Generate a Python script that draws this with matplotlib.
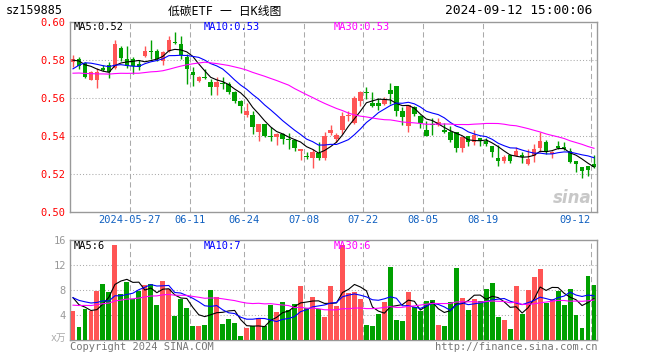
import numpy as np
import pandas as pd
import matplotlib
matplotlib.use('Agg')
import matplotlib.pyplot as plt

# Daily bars for 159885, 2024-05-13 .. 2024-09-12
opens = [0.5788, 0.5805, 0.5784, 0.5696, 0.5696, 0.5756, 0.5774, 0.5756, 0.5861, 0.5805,
         0.5805, 0.5779, 0.5819, 0.5849, 0.5849, 0.5796, 0.5849, 0.5896, 0.5884, 0.5814,
         0.5739, 0.5691, 0.5707, 0.5686, 0.5656, 0.5679, 0.5674, 0.5633, 0.5586, 0.5511,
         0.5511, 0.5423, 0.5463, 0.5402, 0.5393, 0.5411, 0.5382, 0.5379, 0.5323, 0.5289,
         0.5282, 0.5311, 0.5282, 0.5416, 0.5384, 0.5433, 0.5504, 0.5468, 0.5586, 0.5628,
         0.5574, 0.5574, 0.5568, 0.5644, 0.5665, 0.5533, 0.5454, 0.5551, 0.5507, 0.5433,
         0.5460, 0.5458, 0.5433, 0.5423, 0.5423, 0.5335, 0.5402, 0.5367, 0.5391, 0.5375,
         0.5346, 0.5282, 0.5270, 0.5300, 0.5296, 0.5300, 0.5253, 0.5296, 0.5335, 0.5367,
         0.5305, 0.5346, 0.5340, 0.5323, 0.5270, 0.5235, 0.5244, 0.5253]
highs = [0.5826, 0.5814, 0.5791, 0.5744, 0.5756, 0.5774, 0.5788, 0.5907, 0.5872, 0.5872,
         0.5814, 0.5800, 0.5875, 0.5907, 0.5858, 0.5849, 0.5928, 0.5949, 0.5928, 0.5832,
         0.5761, 0.5714, 0.5753, 0.5700, 0.5709, 0.5709, 0.5682, 0.5639, 0.5591, 0.5574,
         0.5533, 0.5463, 0.5463, 0.5446, 0.5416, 0.5416, 0.5416, 0.5384, 0.5332, 0.5314,
         0.5332, 0.5367, 0.5423, 0.5458, 0.5416, 0.5528, 0.5533, 0.5609, 0.5639, 0.5656,
         0.5630, 0.5598, 0.5604, 0.5679, 0.5665, 0.5551, 0.5563, 0.5560, 0.5511, 0.5481,
         0.5493, 0.5493, 0.5468, 0.5454, 0.5423, 0.5393, 0.5402, 0.5433, 0.5391, 0.5388,
         0.5346, 0.5353, 0.5300, 0.5305, 0.5340, 0.5314, 0.5332, 0.5358, 0.5423, 0.5381,
         0.5323, 0.5375, 0.5367, 0.5335, 0.5270, 0.5235, 0.5244, 0.5300]
lows = [0.5761, 0.5753, 0.5704, 0.5696, 0.5651, 0.5744, 0.5704, 0.5753, 0.5796, 0.5756,
        0.5726, 0.5747, 0.5814, 0.5805, 0.5796, 0.5774, 0.5844, 0.5884, 0.5805, 0.5674,
        0.5661, 0.5682, 0.5700, 0.5616, 0.5616, 0.5647, 0.5621, 0.5574, 0.5519, 0.5498,
        0.5411, 0.5375, 0.5393, 0.5375, 0.5353, 0.5358, 0.5332, 0.5323, 0.5275, 0.5279,
        0.5230, 0.5275, 0.5275, 0.5405, 0.5370, 0.5411, 0.5481, 0.5463, 0.5560, 0.5595,
        0.5551, 0.5539, 0.5563, 0.5568, 0.5504, 0.5458, 0.5419, 0.5504, 0.5440, 0.5402,
        0.5405, 0.5451, 0.5416, 0.5370, 0.5318, 0.5318, 0.5349, 0.5353, 0.5349, 0.5349,
        0.5288, 0.5240, 0.5256, 0.5256, 0.5293, 0.5258, 0.5247, 0.5265, 0.5318, 0.5305,
        0.5282, 0.5332, 0.5328, 0.5258, 0.5209, 0.5177, 0.5191, 0.5230]
closes = [0.5805, 0.5770, 0.5709, 0.5739, 0.5739, 0.5750, 0.5739, 0.5884, 0.5809, 0.5767,
          0.5767, 0.5761, 0.5849, 0.5840, 0.5805, 0.5840, 0.5907, 0.5888, 0.5826, 0.5753,
          0.5721, 0.5709, 0.5705, 0.5656, 0.5686, 0.5674, 0.5633, 0.5586, 0.5556, 0.5533,
          0.5446, 0.5463, 0.5402, 0.5396, 0.5411, 0.5384, 0.5380, 0.5335, 0.5332, 0.5288,
          0.5314, 0.5282, 0.5402, 0.5433, 0.5405, 0.5507, 0.5511, 0.5598, 0.5633, 0.5626,
          0.5556, 0.5556, 0.5591, 0.5621, 0.5533, 0.5498, 0.5563, 0.5516, 0.5468, 0.5402,
          0.5458, 0.5475, 0.5423, 0.5381, 0.5335, 0.5393, 0.5367, 0.5405, 0.5375, 0.5356,
          0.5314, 0.5270, 0.5291, 0.5270, 0.5323, 0.5288, 0.5279, 0.5332, 0.5375, 0.5314,
          0.5314, 0.5335, 0.5332, 0.5261, 0.5253, 0.5214, 0.5223, 0.5235]
# volume in 万手
volumes = [4.57, 2.15, 5.0, 4.68, 7.9, 9.03, 7.63, 15.2, 7.42, 9.25,
           6.6, 7.8, 8.87, 9.03, 5.54, 9.4, 8.17, 3.92, 6.56, 5.2,
           2.26, 2.26, 2.42, 8.06, 6.83, 2.58, 3.39, 2.8, 0.7, 1.99,
           2.26, 3.5, 2.26, 5.65, 4.41, 6.02, 4.84, 5.8, 8.6, 5.1,
           6.83, 5.0, 3.76, 8.6, 5.44, 15.2, 7.47, 7.73, 6.56, 2.4,
           2.24, 4.16, 6.13, 11.73, 3.2, 3.09, 7.73, 5.23, 4.69, 6.29,
           6.4, 2.4, 2.24, 6.13, 11.57, 6.77, 4.8, 6.56, 6.24, 8.21,
           9.17, 3.73, 3.2, 1.81, 8.69, 4.16, 8.0, 10.13, 11.41, 5.97,
           6.56, 7.89, 5.6, 8.21, 3.95, 1.92, 10.29, 8.85]

# rough guess of the 29 sessions before the window, only to warm up the moving averages
prior_close = [0.574, 0.578, 0.576, 0.579, 0.575, 0.577, 0.580, 0.576, 0.578, 0.575,
               0.576, 0.574, 0.573, 0.575, 0.572, 0.568, 0.563, 0.558, 0.555, 0.556,
               0.558, 0.558, 0.576, 0.580, 0.582, 0.579, 0.581, 0.578, 0.581]
prior_vol = [3.8, 4.5, 5.2, 3.9, 4.1, 4.8, 5.0, 3.6, 4.4, 4.9, 4.2, 3.7, 4.6, 4.8, 4.5,
             6.2, 7.5, 6.8, 5.9, 7.1, 6.4, 7.3, 6.6, 7.0, 6.5, 7.8, 6.9, 7.4, 7.2]

tick_pos = [10, 20, 29, 39, 49, 59, 69, 87]
tick_labels = ['2024-05-27', '06-11', '06-24', '07-08', '07-22', '08-05', '08-19', '09-12']

RED = '#ff5555'
GREEN = '#00a000'
MONO = 'DejaVu Sans Mono'

n = len(closes)
x = np.arange(n)
npre = len(prior_close)
cs = pd.Series(prior_close + closes)
vs = pd.Series(prior_vol + volumes)
ma = {k: cs.rolling(k).mean().values[npre:] for k in (5, 10, 30)}
vma = {k: vs.rolling(k).mean().values[npre:] for k in (5, 10, 30)}

o = np.array(opens); c = np.array(closes)
up = c >= o
cols = np.where(up, RED, GREEN)

fig = plt.figure(figsize=(6.6, 3.6), dpi=100)
W, H = 660.0, 360.0
ax = fig.add_axes([70 / W, 1 - 212 / H, 527 / W, 190 / H])
vax = fig.add_axes([70 / W, 1 - 340 / H, 527 / W, 100 / H])

# candles
ax.vlines(x, lows, highs, colors=cols, lw=1, zorder=3)
body = np.maximum(np.abs(c - o), 0.0005)
ax.bar(x, body, bottom=np.minimum(o, c), width=0.75, color=cols, lw=0, zorder=4)
ax.plot(x, ma[5], color='black', lw=0.8, zorder=5)
ax.plot(x, ma[10], color='blue', lw=0.8, zorder=5)
ax.plot(x, ma[30], color='magenta', lw=0.8, zorder=5)
ax.set_ylim(0.50, 0.60)
ax.set_yticks([0.50, 0.52, 0.54, 0.56, 0.58, 0.60])
ax.set_yticklabels(['%.2f' % v for v in [0.50, 0.52, 0.54, 0.56, 0.58, 0.60]],
                   color='red', family=MONO, fontsize=7.5)

# volume
vax.bar(x, volumes, width=0.82, color=cols, lw=0, zorder=3)
vax.plot(x, vma[5], color='black', lw=0.8, zorder=5)
vax.plot(x, vma[10], color='blue', lw=0.8, zorder=5)
vax.plot(x, vma[30], color='magenta', lw=0.8, zorder=5)
vax.set_ylim(0, 16)
vax.set_yticks([4, 8, 12, 16])
vax.set_yticklabels(['4', '8', '12', '16'], color='#999999', family=MONO, fontsize=7.5)

for a in (ax, vax):
    a.set_xlim(-0.5, n - 0.5)
    a.set_xticks([])
    a.tick_params(axis='y', length=0, pad=3)
    for s in a.spines.values():
        s.set_color('#999999')
        s.set_linewidth(1.0)
    for yv in a.get_yticks()[1:-1] if a is ax else [4, 8, 12]:
        a.axhline(yv, color='#aaaaaa', lw=0.75, ls=(0, (1, 2)), zorder=1)
    for p in tick_pos:
        a.axvline(p - 0.5, color='#aaaaaa', lw=0.75, ls=(0, (5, 3)), zorder=1)

# date labels under the price panel
for p, lab in zip(tick_pos, tick_labels):
    ha = 'right' if p == tick_pos[-1] else 'center'
    ax.text(p - 0.5, 0.4985, lab, ha=ha, va='top', color='#1060c0',
            family=MONO, fontsize=7.5)

def fx(px):
    return px / W

def fy(py):
    return 1 - py / H

# moving average captions
fig.text(fx(74), fy(22), 'MA5:%.2f' % ma[5][-1], color='black', family=MONO, fontsize=7.5, va='top')
fig.text(fx(204), fy(22), 'MA10:%.2f' % ma[10][-1], color='blue', family=MONO, fontsize=7.5, va='top')
fig.text(fx(334), fy(22), 'MA30:%.2f' % ma[30][-1], color='magenta', family=MONO, fontsize=7.5, va='top')
fig.text(fx(74), fy(241), 'MA5:%d' % vma[5][-1], color='black', family=MONO, fontsize=7.5, va='top')
fig.text(fx(204), fy(241), 'MA10:%d' % round(vma[10][-1]), color='blue', family=MONO, fontsize=7.5, va='top')
fig.text(fx(334), fy(241), 'MA30:%d' % round(vma[30][-1]), color='magenta', family=MONO, fontsize=7.5, va='top')

# header
fig.text(fx(6), fy(11), 'sz159885', family=[MONO, 'Noto Sans CJK SC'], fontsize=8.5, va='center')
fig.text(fx(225), fy(11), '低碳ETF 一 日K线图', family=[MONO, 'Noto Sans CJK SC'], fontsize=8.5,
         va='center', ha='center')
fig.text(fx(592), fy(11), '2024-09-12 15:00:06', family=MONO, fontsize=9.3, va='center', ha='right')

# footer
fig.text(fx(70), fy(342), 'Copyright 2024 SINA.COM', color='#777777', family=MONO, fontsize=7.5, va='top')
fig.text(fx(597), fy(342), 'http://finance.sina.com.cn', color='#777777', family=MONO, fontsize=7.5,
         va='top', ha='right')
fig.text(fx(66), fy(343), 'x万', color='#aaaaaa', family=[MONO, 'Noto Sans CJK SC'], fontsize=7,
         va='bottom', ha='right')

# faint sina mark
fig.text(fx(592), fy(207), 'sina', color='#c8c8c8', fontsize=12, fontweight='bold',
         style='italic', ha='right', va='bottom')

fig.savefig('out.png', dpi=100)
